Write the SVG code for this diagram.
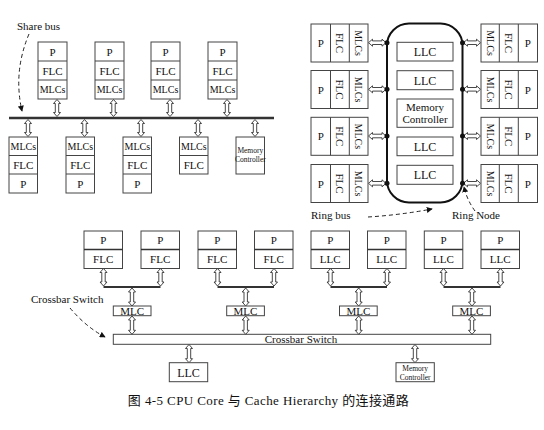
<svg xmlns="http://www.w3.org/2000/svg" width="544" height="430" viewBox="0 0 544 430" font-family="Liberation Serif, Times New Roman, serif">
<defs>
<style>
.bx{fill:#fff;stroke:#444;stroke-width:1}
.dv{stroke:#444;stroke-width:1}
.dv2{stroke:#333;stroke-width:1.6}
.t{font-size:11px;fill:#111;text-anchor:middle}
.s{font-size:10px}
.xs{font-size:7.5px}
.lab{font-size:11px;fill:#111}
.ar{fill:#fff;stroke:#333;stroke-width:0.9}
.bus{stroke:#333;stroke-width:2.5;fill:none}
.ln{stroke:#333;stroke-width:2;fill:none}
.dash{stroke:#222;stroke-width:1;fill:none;stroke-dasharray:4 3}
.dot{fill:#111}
</style>
<marker id="ah" viewBox="0 0 8 8" refX="7" refY="4" markerWidth="6" markerHeight="6" orient="auto" markerUnits="userSpaceOnUse">
<path d="M0 0 L8 4 L0 8 Z" fill="#111"/>
</marker>
</defs>
<rect width="544" height="430" fill="#fff"/>

<!-- ===== Shared bus section ===== -->
<g id="sb-top1"><rect class="bx" x="38" y="42" width="29" height="57"/><line class="dv" x1="38" y1="61" x2="67" y2="61"/><line class="dv" x1="38" y1="80" x2="67" y2="80"/><text class="t" x="52.5" y="55.5">P</text><text class="t" x="52.5" y="74.5">FLC</text><text class="t s" x="52.5" y="93">MLCs</text></g>
<g id="sb-top2"><rect class="bx" x="95" y="42" width="29" height="57"/><line class="dv" x1="95" y1="61" x2="124" y2="61"/><line class="dv" x1="95" y1="80" x2="124" y2="80"/><text class="t" x="109.5" y="55.5">P</text><text class="t" x="109.5" y="74.5">FLC</text><text class="t s" x="109.5" y="93">MLCs</text></g>
<g id="sb-top3"><rect class="bx" x="151" y="42" width="29" height="57"/><line class="dv" x1="151" y1="61" x2="180" y2="61"/><line class="dv" x1="151" y1="80" x2="180" y2="80"/><text class="t" x="165.5" y="55.5">P</text><text class="t" x="165.5" y="74.5">FLC</text><text class="t s" x="165.5" y="93">MLCs</text></g>
<g id="sb-top4"><rect class="bx" x="208" y="42" width="29" height="57"/><line class="dv" x1="208" y1="61" x2="237" y2="61"/><line class="dv" x1="208" y1="80" x2="237" y2="80"/><text class="t" x="222.5" y="55.5">P</text><text class="t" x="222.5" y="74.5">FLC</text><text class="t s" x="222.5" y="93">MLCs</text></g>

<g id="sb-bot1"><rect class="bx" x="9" y="137" width="28.5" height="56"/><line class="dv" x1="9" y1="155.5" x2="37.5" y2="155.5"/><line class="dv" x1="9" y1="174" x2="37.5" y2="174"/><text class="t s" x="23.3" y="150">MLCs</text><text class="t" x="23.3" y="168.5">FLC</text><text class="t" x="23.3" y="187.5">P</text></g>
<g id="sb-bot2"><rect class="bx" x="66" y="137" width="28.5" height="56"/><line class="dv" x1="66" y1="155.5" x2="94.5" y2="155.5"/><line class="dv" x1="66" y1="174" x2="94.5" y2="174"/><text class="t s" x="80.3" y="150">MLCs</text><text class="t" x="80.3" y="168.5">FLC</text><text class="t" x="80.3" y="187.5">P</text></g>
<g id="sb-bot3"><rect class="bx" x="123" y="137" width="28.5" height="56"/><line class="dv" x1="123" y1="155.5" x2="151.5" y2="155.5"/><line class="dv" x1="123" y1="174" x2="151.5" y2="174"/><text class="t s" x="137.3" y="150">MLCs</text><text class="t" x="137.3" y="168.5">FLC</text><text class="t" x="137.3" y="187.5">P</text></g>
<g id="sb-bot4"><rect class="bx" x="179.5" y="137" width="28.5" height="37"/><line class="dv" x1="179.5" y1="155.5" x2="208" y2="155.5"/><text class="t s" x="193.8" y="150">MLCs</text><text class="t" x="193.8" y="168.5">FLC</text></g>
<g id="sb-mc"><rect class="bx" x="236" y="137" width="28.5" height="37"/><text class="t xs" x="250.3" y="153">Memory</text><text class="t xs" x="250.3" y="162">Controller</text></g>

<text class="lab" x="17" y="30">Share bus</text>

<!-- ===== Ring section ===== -->
<g id="rg-l1"><rect class="bx" x="311" y="24" width="57" height="38"/><line class="dv" x1="330.5" y1="24" x2="330.5" y2="62"/><line class="dv" x1="349.3" y1="24" x2="349.3" y2="62"/><text class="t" x="320.7" y="47">P</text><text class="t" transform="translate(339.9 43) rotate(90)" y="3.8">FLC</text><text class="t s" transform="translate(358.6 43) rotate(90)" y="3.5">MLCs</text></g>
<g id="rg-l2"><rect class="bx" x="311" y="70.5" width="57" height="38"/><line class="dv" x1="330.5" y1="70.5" x2="330.5" y2="108.5"/><line class="dv" x1="349.3" y1="70.5" x2="349.3" y2="108.5"/><text class="t" x="320.7" y="93.5">P</text><text class="t" transform="translate(339.9 89.5) rotate(90)" y="3.8">FLC</text><text class="t s" transform="translate(358.6 89.5) rotate(90)" y="3.5">MLCs</text></g>
<g id="rg-l3"><rect class="bx" x="311" y="117.3" width="57" height="38"/><line class="dv" x1="330.5" y1="117.3" x2="330.5" y2="155.3"/><line class="dv" x1="349.3" y1="117.3" x2="349.3" y2="155.3"/><text class="t" x="320.7" y="140.3">P</text><text class="t" transform="translate(339.9 136.3) rotate(90)" y="3.8">FLC</text><text class="t s" transform="translate(358.6 136.3) rotate(90)" y="3.5">MLCs</text></g>
<g id="rg-l4"><rect class="bx" x="311" y="164.5" width="57" height="38"/><line class="dv" x1="330.5" y1="164.5" x2="330.5" y2="202.5"/><line class="dv" x1="349.3" y1="164.5" x2="349.3" y2="202.5"/><text class="t" x="320.7" y="187.5">P</text><text class="t" transform="translate(339.9 183.5) rotate(90)" y="3.8">FLC</text><text class="t s" transform="translate(358.6 183.5) rotate(90)" y="3.5">MLCs</text></g>

<g id="rg-r1"><rect class="bx" x="481" y="24" width="56.5" height="38"/><line class="dv" x1="499.3" y1="24" x2="499.3" y2="62"/><line class="dv" x1="518.3" y1="24" x2="518.3" y2="62"/><text class="t s" transform="translate(490.2 43) rotate(90)" y="3.5">MLCs</text><text class="t" transform="translate(508.8 43) rotate(90)" y="3.8">FLC</text><text class="t" x="527.9" y="47">P</text></g>
<g id="rg-r2"><rect class="bx" x="481" y="70.5" width="56.5" height="38"/><line class="dv" x1="499.3" y1="70.5" x2="499.3" y2="108.5"/><line class="dv" x1="518.3" y1="70.5" x2="518.3" y2="108.5"/><text class="t s" transform="translate(490.2 89.5) rotate(90)" y="3.5">MLCs</text><text class="t" transform="translate(508.8 89.5) rotate(90)" y="3.8">FLC</text><text class="t" x="527.9" y="93.5">P</text></g>
<g id="rg-r3"><rect class="bx" x="481" y="117.3" width="56.5" height="38"/><line class="dv" x1="499.3" y1="117.3" x2="499.3" y2="155.3"/><line class="dv" x1="518.3" y1="117.3" x2="518.3" y2="155.3"/><text class="t s" transform="translate(490.2 136.3) rotate(90)" y="3.5">MLCs</text><text class="t" transform="translate(508.8 136.3) rotate(90)" y="3.8">FLC</text><text class="t" x="527.9" y="140.3">P</text></g>
<g id="rg-r4"><rect class="bx" x="481" y="164.5" width="56.5" height="38"/><line class="dv" x1="499.3" y1="164.5" x2="499.3" y2="202.5"/><line class="dv" x1="518.3" y1="164.5" x2="518.3" y2="202.5"/><text class="t s" transform="translate(490.2 183.5) rotate(90)" y="3.5">MLCs</text><text class="t" transform="translate(508.8 183.5) rotate(90)" y="3.8">FLC</text><text class="t" x="527.9" y="187.5">P</text></g>

<g id="ring"><rect x="387" y="23.5" width="75.5" height="179" rx="22" ry="22" fill="none" stroke="#111" stroke-width="2"/></g>
<g id="llc1"><rect class="bx" x="397" y="42.3" width="56" height="18.7"/><text class="t" style="font-size:12px" x="425" y="56">LLC</text></g>
<g id="llc2"><rect class="bx" x="397" y="70.7" width="56" height="19"/><text class="t" style="font-size:12px" x="425" y="84.5">LLC</text></g>
<g id="ring-mc"><rect class="bx" x="397" y="99" width="56" height="28.3"/><text class="t" x="425" y="111">Memory</text><text class="t" x="425" y="123">Controller</text></g>
<g id="llc3"><rect class="bx" x="397" y="137" width="56" height="18.7"/><text class="t" style="font-size:12px" x="425" y="150.5">LLC</text></g>
<g id="llc4"><rect class="bx" x="397" y="165.3" width="56" height="19"/><text class="t" style="font-size:12px" x="425" y="179">LLC</text></g>

<text class="lab" x="311" y="219">Ring bus</text>
<text class="lab" x="452" y="219">Ring Node</text>

<!-- ===== Crossbar section ===== -->
<g id="cb-1"><rect class="bx" x="84" y="231" width="38.5" height="37.5"/><line class="dv2" x1="84" y1="249.5" x2="122.5" y2="249.5"/><text class="t" x="103.2" y="244">P</text><text class="t" x="103.2" y="263">FLC</text></g>
<g id="cb-2"><rect class="bx" x="141" y="231" width="38.5" height="37.5"/><line class="dv2" x1="141" y1="249.5" x2="179.5" y2="249.5"/><text class="t" x="160.2" y="244">P</text><text class="t" x="160.2" y="263">FLC</text></g>
<g id="cb-3"><rect class="bx" x="198" y="231" width="38.5" height="37.5"/><line class="dv2" x1="198" y1="249.5" x2="236.5" y2="249.5"/><text class="t" x="217.2" y="244">P</text><text class="t" x="217.2" y="263">FLC</text></g>
<g id="cb-4"><rect class="bx" x="254.5" y="231" width="38.5" height="37.5"/><line class="dv2" x1="254.5" y1="249.5" x2="293" y2="249.5"/><text class="t" x="273.7" y="244">P</text><text class="t" x="273.7" y="263">FLC</text></g>
<g id="cb-5"><rect class="bx" x="311" y="231" width="38.5" height="37.5"/><line class="dv2" x1="311" y1="249.5" x2="349.5" y2="249.5"/><text class="t" x="330.2" y="244">P</text><text class="t" x="330.2" y="263">LLC</text></g>
<g id="cb-6"><rect class="bx" x="367.5" y="231" width="38.5" height="37.5"/><line class="dv2" x1="367.5" y1="249.5" x2="406" y2="249.5"/><text class="t" x="386.7" y="244">P</text><text class="t" x="386.7" y="263">LLC</text></g>
<g id="cb-7"><rect class="bx" x="424.3" y="231" width="38.5" height="37.5"/><line class="dv2" x1="424.3" y1="249.5" x2="462.8" y2="249.5"/><text class="t" x="443.5" y="244">P</text><text class="t" x="443.5" y="263">LLC</text></g>
<g id="cb-8"><rect class="bx" x="481" y="231" width="38.5" height="37.5"/><line class="dv2" x1="481" y1="249.5" x2="519.5" y2="249.5"/><text class="t" x="500.2" y="244">P</text><text class="t" x="500.2" y="263">LLC</text></g>

<g id="mlc1"><rect class="bx" x="113.3" y="306" width="37.7" height="9.7"/><text class="t" x="132.2" y="314.5">MLC</text></g>
<g id="mlc2"><rect class="bx" x="226.7" y="306" width="37.7" height="9.7"/><text class="t" x="245.5" y="314.5">MLC</text></g>
<g id="mlc3"><rect class="bx" x="339.5" y="306" width="37.7" height="9.7"/><text class="t" x="358.4" y="314.5">MLC</text></g>
<g id="mlc4"><rect class="bx" x="452.7" y="306" width="37.7" height="9.7"/><text class="t" x="471.5" y="314.5">MLC</text></g>

<g id="crossbar"><rect class="bx" x="113.3" y="334.3" width="377.4" height="10"/><text class="t" x="301" y="343">Crossbar Switch</text></g>
<g id="cb-llc"><rect class="bx" x="169.3" y="362.7" width="38.4" height="19"/><text class="t" style="font-size:12px" x="188.5" y="376.5">LLC</text></g>
<g id="cb-mc"><rect class="bx" x="396" y="362.7" width="38.3" height="19"/><text class="t xs" x="415.2" y="371">Memory</text><text class="t xs" x="415.2" y="379.5">Controller</text></g>

<text class="lab" x="31" y="303">Crossbar Switch</text>

<!-- ===== Connectors ===== -->
<g id="connectors">
<line class="bus" x1="9" y1="118" x2="274" y2="118"/>
<path class="ar" d="M57 99.5 l3.5 4 h-1.8 V112.5 h1.8 L57 116.5 l-3.5 -4 h1.8 V103.5 h-1.8 Z"/>
<path class="ar" d="M113.5 99.5 l3.5 4 h-1.8 V112.5 h1.8 L113.5 116.5 l-3.5 -4 h1.8 V103.5 h-1.8 Z"/>
<path class="ar" d="M170 99.5 l3.5 4 h-1.8 V112.5 h1.8 L170 116.5 l-3.5 -4 h1.8 V103.5 h-1.8 Z"/>
<path class="ar" d="M227 99.5 l3.5 4 h-1.8 V112.5 h1.8 L227 116.5 l-3.5 -4 h1.8 V103.5 h-1.8 Z"/>
<path class="ar" d="M28 119.5 l3.5 4 h-1.8 V132.5 h1.8 L28 136.5 l-3.5 -4 h1.8 V123.5 h-1.8 Z"/>
<path class="ar" d="M84.5 119.5 l3.5 4 h-1.8 V132.5 h1.8 L84.5 136.5 l-3.5 -4 h1.8 V123.5 h-1.8 Z"/>
<path class="ar" d="M141 119.5 l3.5 4 h-1.8 V132.5 h1.8 L141 136.5 l-3.5 -4 h1.8 V123.5 h-1.8 Z"/>
<path class="ar" d="M198 119.5 l3.5 4 h-1.8 V132.5 h1.8 L198 136.5 l-3.5 -4 h1.8 V123.5 h-1.8 Z"/>
<path class="ar" d="M255 119.5 l3.5 4 h-1.8 V132.5 h1.8 L255 136.5 l-3.5 -4 h1.8 V123.5 h-1.8 Z"/>
<path class="dash" d="M29 34 Q13 72 22 111" marker-end="url(#ah)"/>

<path class="ar" d="M368.5 42.7 l4 -3.5 v1.7 H382 v-1.7 L386 42.7 l-4 3.5 v-1.7 H372.5 v1.7 Z"/>
<path class="ar" d="M368.5 89.3 l4 -3.5 v1.7 H382 v-1.7 L386 89.3 l-4 3.5 v-1.7 H372.5 v1.7 Z"/>
<path class="ar" d="M368.5 136 l4 -3.5 v1.7 H382 v-1.7 L386 136 l-4 3.5 v-1.7 H372.5 v1.7 Z"/>
<path class="ar" d="M368.5 183.3 l4 -3.5 v1.7 H382 v-1.7 L386 183.3 l-4 3.5 v-1.7 H372.5 v1.7 Z"/>
<path class="ar" d="M463.5 42.7 l4 -3.5 v1.7 H476.5 v-1.7 L480.5 42.7 l-4 3.5 v-1.7 H467.5 v1.7 Z"/>
<path class="ar" d="M463.5 89.3 l4 -3.5 v1.7 H476.5 v-1.7 L480.5 89.3 l-4 3.5 v-1.7 H467.5 v1.7 Z"/>
<path class="ar" d="M463.5 136 l4 -3.5 v1.7 H476.5 v-1.7 L480.5 136 l-4 3.5 v-1.7 H467.5 v1.7 Z"/>
<path class="ar" d="M463.5 183.3 l4 -3.5 v1.7 H476.5 v-1.7 L480.5 183.3 l-4 3.5 v-1.7 H467.5 v1.7 Z"/>
<circle class="dot" cx="387" cy="42.7" r="2.5"/>
<circle class="dot" cx="387" cy="89.3" r="2.5"/>
<circle class="dot" cx="387" cy="136" r="2.5"/>
<circle class="dot" cx="387" cy="183.3" r="2.5"/>
<circle class="dot" cx="462.5" cy="42.7" r="2.5"/>
<circle class="dot" cx="462.5" cy="89.3" r="2.5"/>
<circle class="dot" cx="462.5" cy="136" r="2.5"/>
<circle class="dot" cx="462.5" cy="183.3" r="2.5"/>
<path class="dash" d="M368 217 Q400 215 432 209" marker-end="url(#ah)"/>
<path class="dash" d="M475 211 Q467 200 464 187" marker-end="url(#ah)"/>

<path class="ar" d="M103.5 268.5 l3.5 4 h-1.8 V282 h1.8 L103.5 286 l-3.5 -4 h1.8 V272.5 h-1.8 Z"/>
<path class="ar" d="M160.5 268.5 l3.5 4 h-1.8 V282 h1.8 L160.5 286 l-3.5 -4 h1.8 V272.5 h-1.8 Z"/>
<path class="ar" d="M217.5 268.5 l3.5 4 h-1.8 V282 h1.8 L217.5 286 l-3.5 -4 h1.8 V272.5 h-1.8 Z"/>
<path class="ar" d="M274 268.5 l3.5 4 h-1.8 V282 h1.8 L274 286 l-3.5 -4 h1.8 V272.5 h-1.8 Z"/>
<path class="ar" d="M330.5 268.5 l3.5 4 h-1.8 V282 h1.8 L330.5 286 l-3.5 -4 h1.8 V272.5 h-1.8 Z"/>
<path class="ar" d="M387 268.5 l3.5 4 h-1.8 V282 h1.8 L387 286 l-3.5 -4 h1.8 V272.5 h-1.8 Z"/>
<path class="ar" d="M443.5 268.5 l3.5 4 h-1.8 V282 h1.8 L443.5 286 l-3.5 -4 h1.8 V272.5 h-1.8 Z"/>
<path class="ar" d="M500.5 268.5 l3.5 4 h-1.8 V282 h1.8 L500.5 286 l-3.5 -4 h1.8 V272.5 h-1.8 Z"/>
<line class="ln" x1="103.5" y1="287" x2="160.5" y2="287"/>
<line class="ln" x1="217.5" y1="287" x2="274" y2="287"/>
<line class="ln" x1="330.5" y1="287" x2="387" y2="287"/>
<line class="ln" x1="443.5" y1="287" x2="500.5" y2="287"/>
<path class="ar" d="M132 288 l3.5 4 h-1.8 V302 h1.8 L132 306 l-3.5 -4 h1.8 V292 h-1.8 Z"/>
<path class="ar" d="M245.7 288 l3.5 4 h-1.8 V302 h1.8 L245.7 306 l-3.5 -4 h1.8 V292 h-1.8 Z"/>
<path class="ar" d="M358.7 288 l3.5 4 h-1.8 V302 h1.8 L358.7 306 l-3.5 -4 h1.8 V292 h-1.8 Z"/>
<path class="ar" d="M472 288 l3.5 4 h-1.8 V302 h1.8 L472 306 l-3.5 -4 h1.8 V292 h-1.8 Z"/>
<path class="ar" d="M132 316 l3.5 4 h-1.8 V330.3 h1.8 L132 334.3 l-3.5 -4 h1.8 V320 h-1.8 Z"/>
<path class="ar" d="M245.7 316 l3.5 4 h-1.8 V330.3 h1.8 L245.7 334.3 l-3.5 -4 h1.8 V320 h-1.8 Z"/>
<path class="ar" d="M358.7 316 l3.5 4 h-1.8 V330.3 h1.8 L358.7 334.3 l-3.5 -4 h1.8 V320 h-1.8 Z"/>
<path class="ar" d="M472 316 l3.5 4 h-1.8 V330.3 h1.8 L472 334.3 l-3.5 -4 h1.8 V320 h-1.8 Z"/>
<path class="ar" d="M189 344.5 l3.5 4 h-1.8 V358.7 h1.8 L189 362.7 l-3.5 -4 h1.8 V348.5 h-1.8 Z"/>
<path class="ar" d="M415 344.5 l3.5 4 h-1.8 V358.7 h1.8 L415 362.7 l-3.5 -4 h1.8 V348.5 h-1.8 Z"/>
<path class="dash" d="M70 308 Q86 327 105 337" marker-end="url(#ah)"/>
</g>

<text x="268.5" y="405" font-family="Liberation Serif, Noto Sans CJK SC, serif" font-size="13" letter-spacing="0.4" fill="#111" text-anchor="middle">图 4-5 CPU Core 与 Cache  Hierarchy 的连接通路</text>
</svg>
